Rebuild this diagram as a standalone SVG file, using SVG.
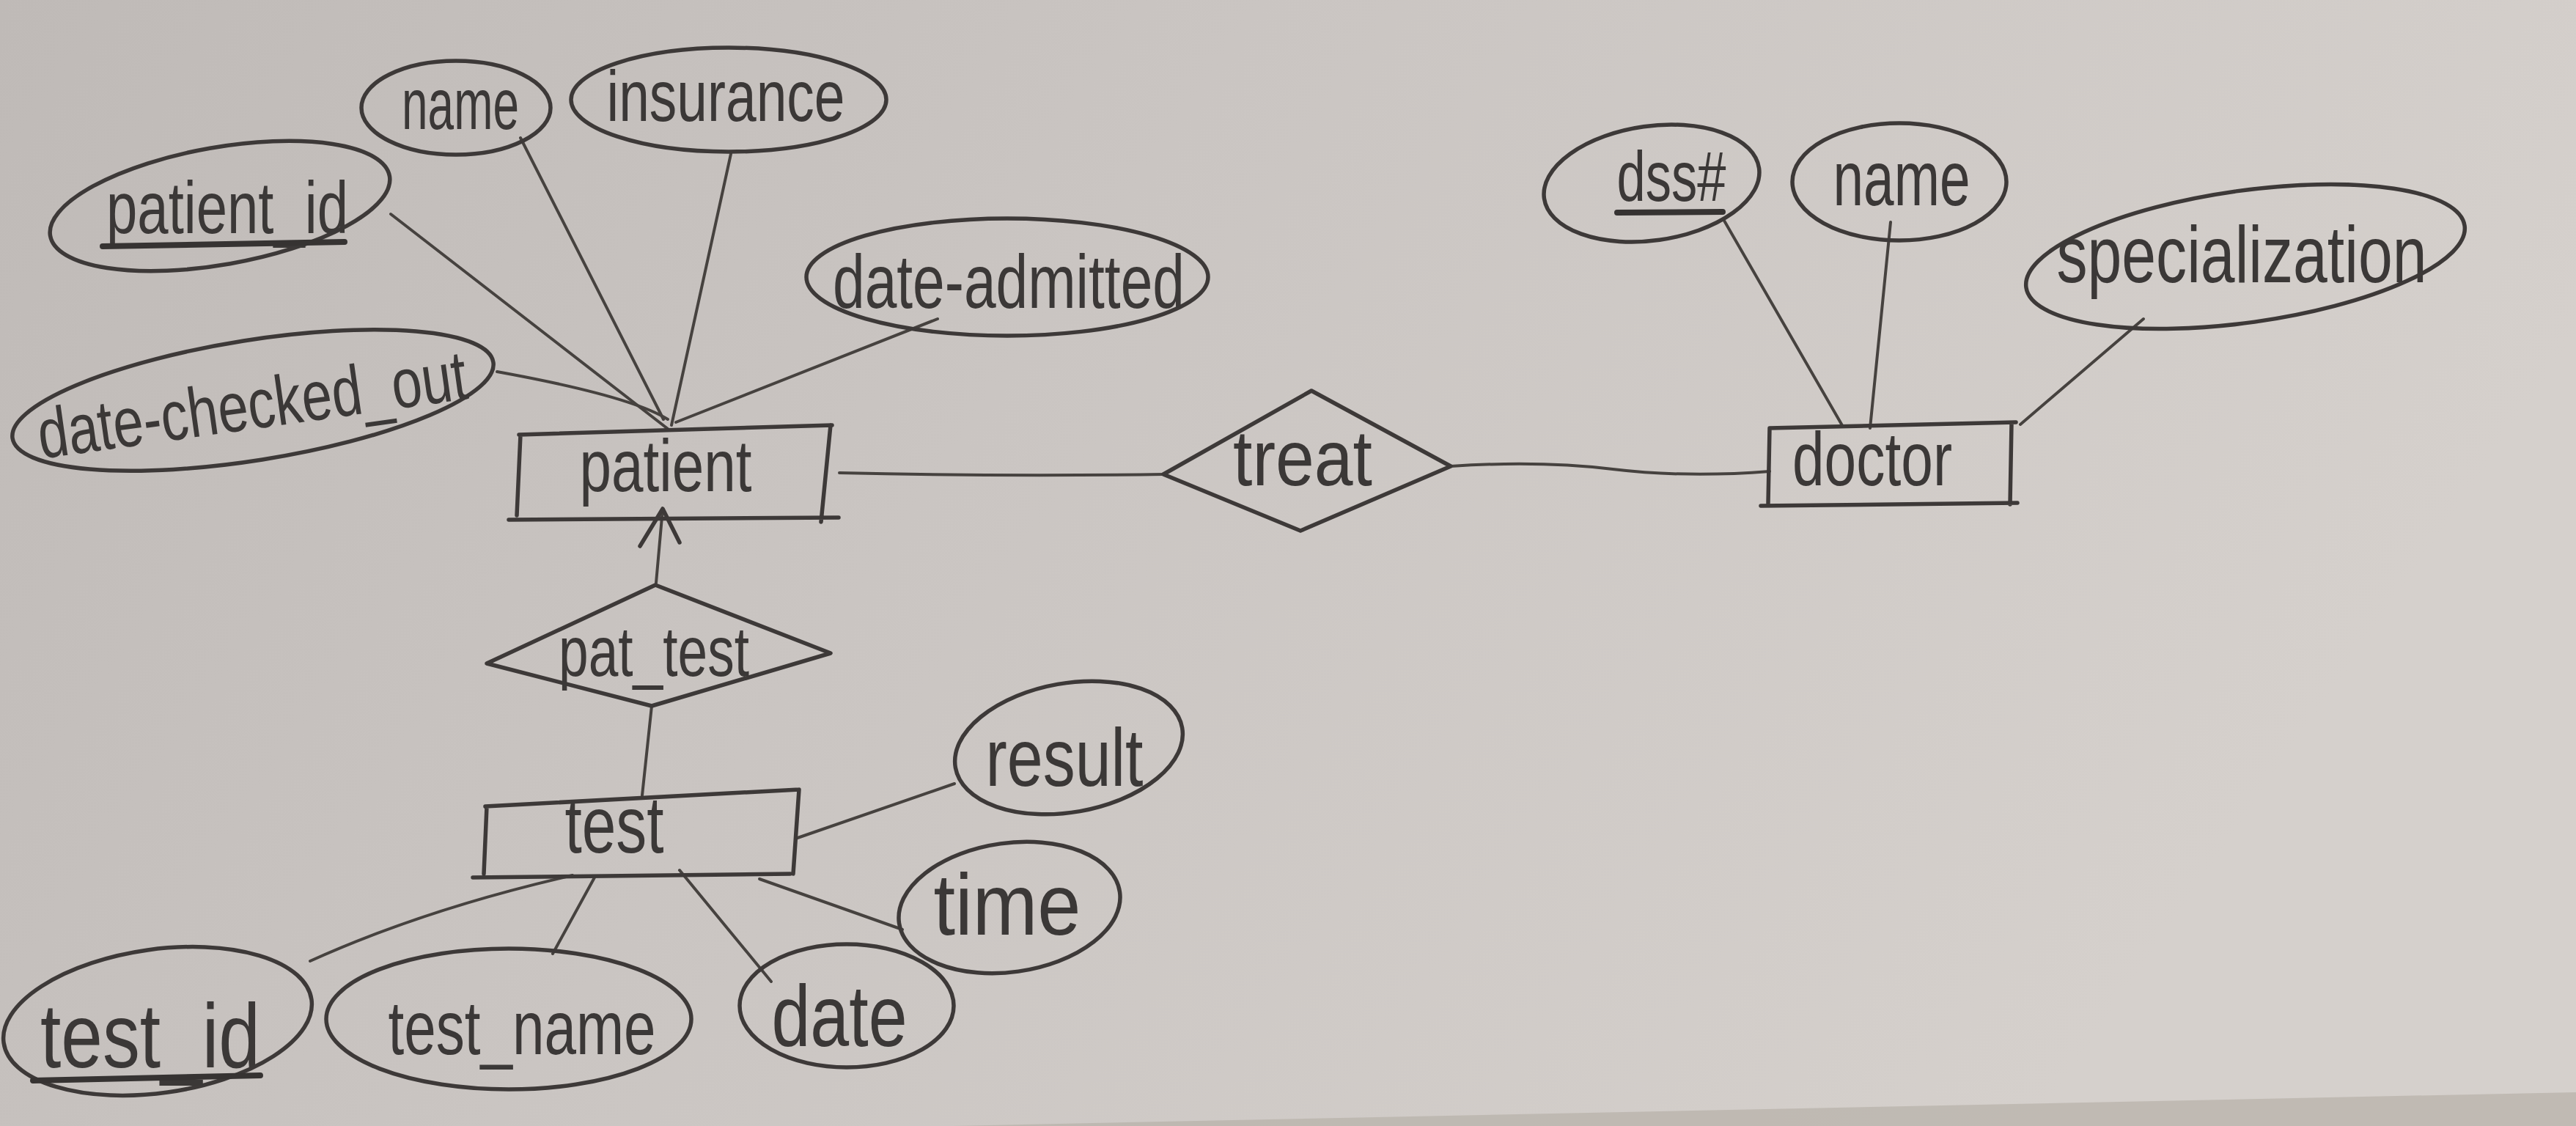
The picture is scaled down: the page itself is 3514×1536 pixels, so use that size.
<svg xmlns="http://www.w3.org/2000/svg" width="3514" height="1536" viewBox="0 0 3514 1536">
<defs>
<linearGradient id="paper" x1="0" y1="0" x2="1" y2="0.3">
<stop offset="0" stop-color="#bfbab7"/>
<stop offset="0.45" stop-color="#cac5c2"/>
<stop offset="1" stop-color="#d5d0cc"/>
</linearGradient>
<style>
.sh{fill:none;stroke:#3d3938;stroke-width:5.5;stroke-linejoin:round;stroke-linecap:round}
.ln{fill:none;stroke:#46423f;stroke-width:4;stroke-linecap:round}
.ul{fill:none;stroke:#363332;stroke-width:8;stroke-linecap:round}
text{font-family:"Liberation Sans","DejaVu Sans",sans-serif;fill:#3b3837;text-anchor:middle}
</style>
</defs>
<rect x="0" y="0" width="3514" height="1536" fill="url(#paper)"/>
<polygon points="1300,1536 3514,1490 3514,1536" fill="#b7b0a8" opacity="0.7"/>

<g id="connectors">
<line class="ln" x1="533" y1="292" x2="911" y2="585"/>
<line class="ln" x1="710" y1="188" x2="905" y2="572"/>
<line class="ln" x1="997" y1="210" x2="916" y2="580"/>
<line class="ln" x1="1279" y1="435" x2="922" y2="576"/>
<path class="ln" d="M678,507 Q860,540 911,572"/>
<path class="ln" d="M1145,645 Q1360,650 1587,647"/>
<path class="ln" d="M1979,636 Q2100,628 2200,640 T2414,643"/>
<line class="ln" x1="2352" y1="301" x2="2514" y2="582"/>
<line class="ln" x1="2579" y1="303" x2="2551" y2="584"/>
<line class="ln" x1="2924" y1="435" x2="2756" y2="579"/>
<line class="ln" x1="895" y1="795" x2="904" y2="694"/>
<polyline class="sh" points="873,745 904,694 927,740"/>
<line class="ln" x1="889" y1="963" x2="876" y2="1085"/>
<line class="ln" x1="1085" y1="1144" x2="1302" y2="1069"/>
<line class="ln" x1="1036" y1="1199" x2="1231" y2="1268"/>
<line class="ln" x1="927" y1="1187" x2="1052" y2="1339"/>
<line class="ln" x1="811" y1="1197" x2="754" y2="1301"/>
<path class="ln" d="M781,1194 Q580,1240 423,1311"/>
</g>

<g id="patient">
<path class="sh" d="M708,593 L1135,580 M710,593 L705,703 M694,709 L1144,706 M1133,580 L1120,712"/>
<text x="908" y="670" font-size="100" textLength="235" lengthAdjust="spacingAndGlyphs">patient</text>
</g>
<g id="patient_name">
<ellipse class="sh" cx="622" cy="147" rx="129" ry="64"/>
<text x="628" y="176" font-size="98" textLength="160" lengthAdjust="spacingAndGlyphs">name</text>
</g>
<g id="insurance">
<ellipse class="sh" cx="994" cy="136" rx="215" ry="71"/>
<text x="990" y="165" font-size="98" textLength="325" lengthAdjust="spacingAndGlyphs">insurance</text>
</g>
<g id="patient_id">
<ellipse class="sh" cx="300" cy="281" rx="235" ry="80" transform="rotate(-10 300 281)"/>
<text x="310" y="318" font-size="100" textLength="330" lengthAdjust="spacingAndGlyphs">patient_id</text>
<line class="ul" x1="140" y1="336" x2="470" y2="330"/>
</g>
<g id="date_admitted">
<ellipse class="sh" cx="1374" cy="378" rx="274" ry="80"/>
<text x="1376" y="420" font-size="104" textLength="480" lengthAdjust="spacingAndGlyphs">date-admitted</text>
</g>
<g id="date_checked_out">
<ellipse class="sh" cx="345" cy="546" rx="332" ry="82" transform="rotate(-9 345 546)"/>
<text x="345" y="585" font-size="96" textLength="590" lengthAdjust="spacingAndGlyphs" transform="rotate(-8 345 560)">date-checked_out</text>
</g>

<g id="treat">
<polygon class="sh" points="1587,647 1789,533 1979,636 1774,724"/>
<text x="1777" y="662" font-size="108" textLength="190" lengthAdjust="spacingAndGlyphs">treat</text>
</g>

<g id="doctor">
<path class="sh" d="M2414,584 L2750,576 M2414,584 L2412,686 M2402,690 L2752,686 M2744,578 L2742,688"/>
<text x="2554" y="662" font-size="104" textLength="218" lengthAdjust="spacingAndGlyphs">doctor</text>
</g>
<g id="dss">
<ellipse class="sh" cx="2253" cy="250" rx="148" ry="78" transform="rotate(-8 2253 250)"/>
<text x="2280" y="274" font-size="96" textLength="149" lengthAdjust="spacingAndGlyphs">dss#</text>
<line class="ul" x1="2206" y1="290" x2="2350" y2="289"/>
</g>
<g id="doctor_name">
<ellipse class="sh" cx="2591" cy="248" rx="146" ry="80"/>
<text x="2594" y="280" font-size="106" textLength="187" lengthAdjust="spacingAndGlyphs">name</text>
</g>
<g id="specialization">
<ellipse class="sh" cx="3063" cy="350" rx="302" ry="90" transform="rotate(-8 3063 350)"/>
<text x="3058" y="385" font-size="110" textLength="505" lengthAdjust="spacingAndGlyphs">specialization</text>
</g>

<g id="pat_test">
<polygon class="sh" points="664,905 894,798 1133,891 889,963"/>
<text x="892" y="922" font-size="96" textLength="260" lengthAdjust="spacingAndGlyphs">pat_test</text>
</g>

<g id="test">
<path class="sh" d="M662,1100 L1090,1077 M664,1100 L660,1192 M645,1197 L1078,1192 M1090,1077 L1082,1192"/>
<text x="838" y="1163" font-size="110" textLength="135" lengthAdjust="spacingAndGlyphs">test</text>
</g>
<g id="result">
<ellipse class="sh" cx="1458" cy="1020" rx="157" ry="88" transform="rotate(-10 1458 1020)"/>
<text x="1452" y="1072" font-size="112" textLength="215" lengthAdjust="spacingAndGlyphs">result</text>
</g>
<g id="time">
<ellipse class="sh" cx="1377" cy="1238" rx="152" ry="88" transform="rotate(-8 1377 1238)"/>
<text x="1374" y="1275" font-size="118" textLength="201" lengthAdjust="spacingAndGlyphs">time</text>
</g>
<g id="test_id">
<ellipse class="sh" cx="215" cy="1393" rx="212" ry="98" transform="rotate(-8 215 1393)"/>
<text x="205" y="1456" font-size="124" textLength="300" lengthAdjust="spacingAndGlyphs">test_id</text>
<line class="ul" x1="45" y1="1474" x2="355" y2="1467"/>
</g>
<g id="test_name">
<ellipse class="sh" cx="694" cy="1390" rx="249" ry="96"/>
<text x="712" y="1438" font-size="104" textLength="365" lengthAdjust="spacingAndGlyphs">test_name</text>
</g>
<g id="date">
<ellipse class="sh" cx="1155" cy="1372" rx="146" ry="84"/>
<text x="1145" y="1427" font-size="118" textLength="185" lengthAdjust="spacingAndGlyphs">date</text>
</g>
</svg>
